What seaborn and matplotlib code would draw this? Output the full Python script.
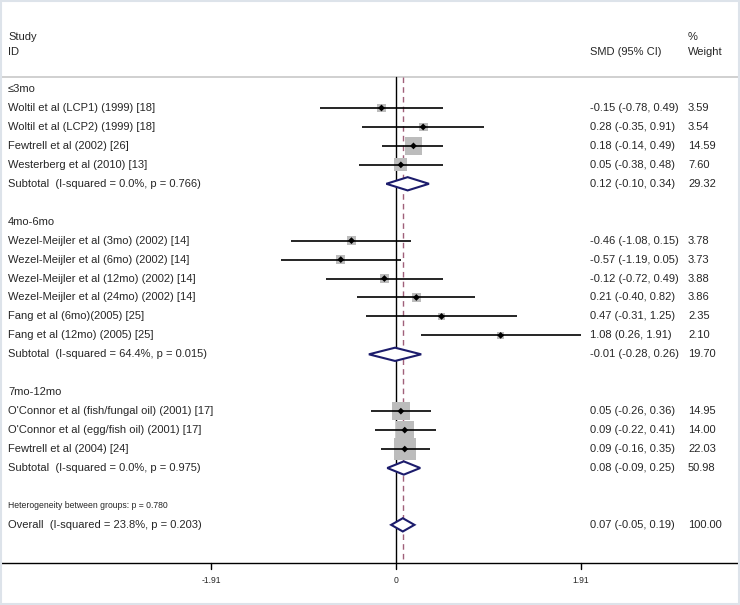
import numpy as np
import pandas as pd
import seaborn as sns
from matplotlib import pyplot as plt

# rows of the forest plot, top to bottom
labels = ["≤3mo",
          "Woltil et al (LCP1) (1999) [18]", "Woltil et al (LCP2) (1999) [18]",
          "Fewtrell et al (2002) [26]", "Westerberg et al (2010) [13]",
          "Subtotal  (I-squared = 0.0%, p = 0.766)", "",
          "4mo-6mo",
          "Wezel-Meijler et al (3mo) (2002) [14]", "Wezel-Meijler et al (6mo) (2002) [14]",
          "Wezel-Meijler et al (12mo) (2002) [14]", "Wezel-Meijler et al (24mo) (2002) [14]",
          "Fang et al (6mo)(2005) [25]", "Fang et al (12mo) (2005) [25]",
          "Subtotal  (I-squared = 64.4%, p = 0.015)", "",
          "7mo-12mo",
          "O'Connor et al (fish/fungal oil) (2001) [17]", "O'Connor et al (egg/fish oil) (2001) [17]",
          "Fewtrell et al (2004) [24]",
          "Subtotal  (I-squared = 0.0%, p = 0.975)", "",
          "Heterogeneity between groups: p = 0.780",
          "Overall  (I-squared = 23.8%, p = 0.203)"]
kinds = ["head", "study", "study", "study", "study", "sub", "blank",
         "head", "study", "study", "study", "study", "study", "study", "sub", "blank",
         "head", "study", "study", "study", "sub", "blank",
         "note", "sub"]
smd = [None, -0.15, 0.28, 0.18, 0.05, 0.12, None,
       None, -0.46, -0.57, -0.12, 0.21, 0.47, 1.08, -0.01, None,
       None, 0.05, 0.09, 0.09, 0.08, None,
       None, 0.07]
ci_lo = [None, -0.78, -0.35, -0.14, -0.38, -0.10, None,
         None, -1.08, -1.19, -0.72, -0.40, -0.31, 0.26, -0.28, None,
         None, -0.26, -0.22, -0.16, -0.09, None,
         None, -0.05]
ci_hi = [None, 0.49, 0.91, 0.49, 0.48, 0.34, None,
         None, 0.15, 0.05, 0.49, 0.82, 1.25, 1.91, 0.26, None,
         None, 0.36, 0.41, 0.35, 0.25, None,
         None, 0.19]
weight = [None, 3.59, 3.54, 14.59, 7.60, 29.32, None,
          None, 3.78, 3.73, 3.88, 3.86, 2.35, 2.10, 19.70, None,
          None, 14.95, 14.00, 22.03, 50.98, None,
          None, 100.00]
overall_smd = 0.07
xticks = [-1.91, 0, 1.91]

df = pd.DataFrame({"label": labels, "kind": kinds, "smd": smd, "lo": ci_lo,
                   "hi": ci_hi, "weight": weight})
df["row"] = np.arange(len(df))
studies = df[df.kind == "study"].copy()

sns.set_style("white")
plt.rcParams['font.family'] = ['Liberation Sans', 'DejaVu Sans']

fig = plt.figure(figsize=(7.4, 6.05), dpi=100)
ax = fig.add_axes([0, 0, 1, 1])
ax.axis('off')
ax.set_xlim(-4.087, 3.550)
ax.set_ylim(27.23, -4.70)
yt = ax.get_yaxis_transform()

top, base = -0.63, 25.01
ax.axhline(top, color='#c8c8c8', lw=1.2)
ax.plot([-5, 5], [base, base], color='black', lw=1)
ax.plot([0, 0], [top, base], color='black', lw=1)
ax.plot([overall_smd] * 2, [top, base], color='#a0607a', lw=1, ls=(0, (4, 3)))
for t in xticks:
    ax.plot([t, t], [base, base + 0.32], color='black', lw=1)
    ax.text(t, base + 0.95, f"{t:g}", ha='center', va='center', fontsize=6.2)

# study boxes, area proportional to weight
k = 11.4
sns.scatterplot(data=studies, x="smd", y="row", size="weight", sizes=(k * 2.10, k * 22.03),
                size_norm=(2.10, 22.03), marker='s', color='#bcbcbc', edgecolor='none',
                legend=False, ax=ax, zorder=2)
ax.hlines(studies.row, studies.lo, studies.hi, color='black', lw=1.2, zorder=3)
sns.scatterplot(data=studies, x="smd", y="row", marker='D', s=12, color='black',
                edgecolor='none', legend=False, ax=ax, zorder=4)

# subtotal / overall diamonds
for _, r in df[df.kind == "sub"].iterrows():
    h = 0.35
    ax.fill([r.lo, r.smd, r.hi, r.smd, r.lo], [r.row, r.row - h, r.row, r.row + h, r.row],
            facecolor='white', edgecolor='#1c1c6c', lw=1.5, zorder=5)

ax.set_xlabel('')
ax.set_ylabel('')

# text columns
fs = 8
ax.text(8 / 740, -2.74, "Study", transform=yt, fontsize=fs, va='center')
ax.text(8 / 740, -1.95, "ID", transform=yt, fontsize=fs, va='center')
ax.text(590 / 740, -1.95, "SMD (95% CI)", transform=yt, fontsize=fs, va='center')
ax.text(688 / 740, -2.74, "%", transform=yt, fontsize=fs, va='center')
ax.text(688 / 740, -1.95, "Weight", transform=yt, fontsize=fs, va='center')

for _, r in df.iterrows():
    if r.kind == "blank":
        continue
    ax.text(8 / 740, r.row, r.label, transform=yt, va='center',
            fontsize=6.2 if r.kind == "note" else fs)
    if r.kind in ("study", "sub"):
        ax.text(590 / 740, r.row, f"{r.smd:.2f} ({r.lo:.2f}, {r.hi:.2f})",
                transform=yt, va='center', fontsize=fs)
        ax.text(688 / 740, r.row, f"{r.weight:.2f}", transform=yt, va='center', fontsize=fs)

# light frame around the picture
fig.patches.append(plt.Rectangle((0.001, 0.001), 0.998, 0.997, transform=fig.transFigure,
                                 fill=False, edgecolor='#dde3ea', lw=1.5))

fig.savefig("out.png", dpi=100)
